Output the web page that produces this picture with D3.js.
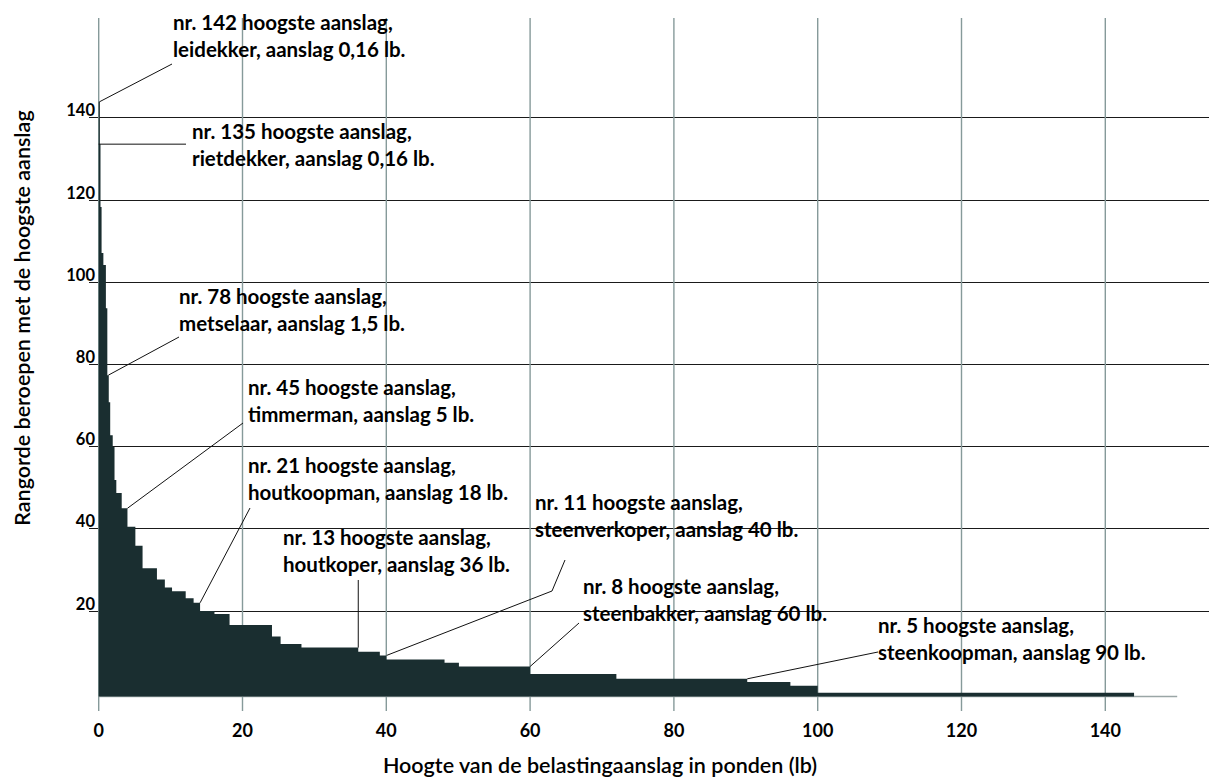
<!DOCTYPE html>
<html>
<head>
<meta charset="utf-8">
<script src="https://cdn.jsdelivr.net/npm/d3@7"></script>
<style>
  html, body { margin: 0; padding: 0; background: #ffffff; }
  svg { display: block; font-family: Lato, "Open Sans", sans-serif; }
</style>
</head>
<body>
<svg id="chart" width="1209" height="778"></svg>
<script>
// ---- data ----
// right edge of each step (assessment in lb) and the rank height of that step
const aanslag = [0.16, 0.25, 0.4, 0.65, 1, 1.2, 1.4, 1.6, 1.95, 2.2, 2.45, 3.2, 4, 5.1, 6.1, 8.1, 9.2, 10.2, 12.1, 13.2, 14.1, 16.1, 18.2, 24.1, 25.3, 28.2, 36.1, 39.1, 40, 48.1, 50.1, 60, 72, 90.2, 96.2, 100, 144];
const rang    = [143.8, 133.5, 118.2, 107, 104.1, 93.6, 77.3, 70.7, 62.7, 59.8, 51.8, 48.6, 44.9, 40.4, 35.8, 30.3, 27.6, 25.6, 24.7, 23, 21.9, 19.9, 19.2, 16.5, 13.7, 11.9, 11, 10, 9.1, 8.1, 7.3, 6.4, 4.6, 3.4, 2.6, 1.7, 0];

const xTicks = [0, 20, 40, 60, 80, 100, 120, 140];
const yTicks = [20, 40, 60, 80, 100, 120, 140];

const xTitle = "Hoogte van de belastingaanslag in ponden (lb)";
const yTitle = "Rangorde beroepen met de hoogste aanslag";

// annotation texts and the data point each one points at
const annLine1 = ["nr. 142 hoogste aanslag,", "nr. 135 hoogste aanslag,", "nr. 78 hoogste aanslag,", "nr. 45 hoogste aanslag,", "nr. 21 hoogste aanslag,", "nr. 13 hoogste aanslag,", "nr. 11 hoogste aanslag,", "nr. 8 hoogste aanslag,", "nr. 5 hoogste aanslag,"];
const annLine2 = ["leidekker, aanslag 0,16 lb.", "rietdekker, aanslag 0,16 lb.", "metselaar, aanslag 1,5 lb.", "timmerman, aanslag 5 lb.", "houtkoopman, aanslag 18 lb.", "houtkoper, aanslag 36 lb.", "steenverkoper, aanslag 40 lb.", "steenbakker, aanslag 60 lb.", "steenkoopman, aanslag 90 lb."];
const annX = [0.1, 0, 1.35, 4.0, 14.1, 36.1, 40.05, 60, 90.2];
const annY = [143.8, 133.5, 77.3, 44.9, 21.9, 11.0, 9.1, 6.4, 3.4];

// ---- layout (pixels) ----
const labelLayout = [
  {tx: 173, ty: 23,  ends: [[172, 64]]},
  {tx: 192, ty: 132, ends: [[186, null]]},
  {tx: 179, ty: 297, ends: [[179, 337]]},
  {tx: 248, ty: 388, ends: [[243, 423]]},
  {tx: 248, ty: 466, ends: [[250, 508]]},
  {tx: 283, ty: 538, ends: [[null, 580]]},
  {tx: 535, ty: 503, ends: [[552, 591], [565, 560]]},
  {tx: 583, ty: 587, ends: [[579, 623]]},
  {tx: 878, ty: 626, ends: [[878, 652]]}
];
const lineGap = 27;
const annFont = 20.5;

const svg = d3.select("#chart");

const x = d3.scaleLinear().domain([0, 150]).range([98.7, 1177.2]);
const y = d3.scaleLinear().domain([-0.9, 164.2]).range([696.5, 18]);

// horizontal gridlines (with tick stub to the left)
svg.append("g").selectAll("line").data(yTicks).join("line")
  .attr("x1", 89).attr("x2", 1209)
  .attr("y1", d => Math.round(y(d)) + 0.5).attr("y2", d => Math.round(y(d)) + 0.5)
  .attr("stroke", "#1a1a1a").attr("stroke-width", 1);

// vertical gridlines (extend below axis as ticks)
svg.append("g").selectAll("line").data(xTicks).join("line")
  .attr("x1", d => x(d)).attr("x2", d => x(d))
  .attr("y1", y.range()[1]).attr("y2", 711)
  .attr("stroke", "#869a9a").attr("stroke-width", 1.4);

// x axis baseline
svg.append("line")
  .attr("x1", x(0)).attr("x2", x(150))
  .attr("y1", y(-0.9)).attr("y2", y(-0.9))
  .attr("stroke", "#9aa6a6").attr("stroke-width", 1.5);

// step area
const pts = aanslag.map((a, i) => ({a: i === 0 ? 0 : aanslag[i - 1], r: rang[i]}));
pts.push({a: aanslag[aanslag.length - 1], r: rang[rang.length - 1]});
const area = d3.area()
  .x(d => x(d.a))
  .y0(y(-0.9))
  .y1(d => y(d.r))
  .curve(d3.curveStepAfter);
svg.append("path").datum(pts)
  .attr("d", area)
  .attr("fill", "#1a2e30");

// tick labels
svg.append("g").selectAll("text").data(xTicks).join("text")
  .attr("x", d => x(d)).attr("y", 737)
  .attr("text-anchor", "middle")
  .attr("font-size", 18).attr("font-weight", 700).attr("fill", "#000")
  .text(d => d);

svg.append("g").selectAll("text").data(yTicks).join("text")
  .attr("x", 95).attr("y", d => y(d) - 1)
  .attr("text-anchor", "end")
  .attr("font-size", 16.5).attr("font-weight", 700).attr("fill", "#000")
  .text(d => d);

// axis titles
svg.append("text")
  .attr("x", 600).attr("y", 773)
  .attr("text-anchor", "middle")
  .attr("font-size", 21.5).attr("font-weight", 600).attr("fill", "#000")
  .text(xTitle);

svg.append("text")
  .attr("transform", "translate(30,318) rotate(-90)")
  .attr("text-anchor", "middle")
  .attr("font-size", 21.5).attr("font-weight", 600).attr("fill", "#000")
  .text(yTitle);

// annotations
const annG = svg.append("g");
annLine1.forEach((t, i) => {
  const L = labelLayout[i];
  const ax = x(annX[i]), ay = y(annY[i]);
  const path = [[ax, ay]].concat(L.ends.map(e => [e[0] === null ? ax : e[0], e[1] === null ? ay : e[1]]));
  annG.append("path")
    .attr("d", d3.line()(path))
    .attr("fill", "none").attr("stroke", "#111").attr("stroke-width", 1);
  annG.append("text")
    .attr("x", L.tx).attr("y", L.ty + 7)
    .attr("font-size", annFont).attr("font-weight", 700).attr("fill", "#000")
    .text(t);
  annG.append("text")
    .attr("x", L.tx).attr("y", L.ty + lineGap + 7)
    .attr("font-size", annFont).attr("font-weight", 700).attr("fill", "#000")
    .text(annLine2[i]);
});
</script>
</body>
</html>
